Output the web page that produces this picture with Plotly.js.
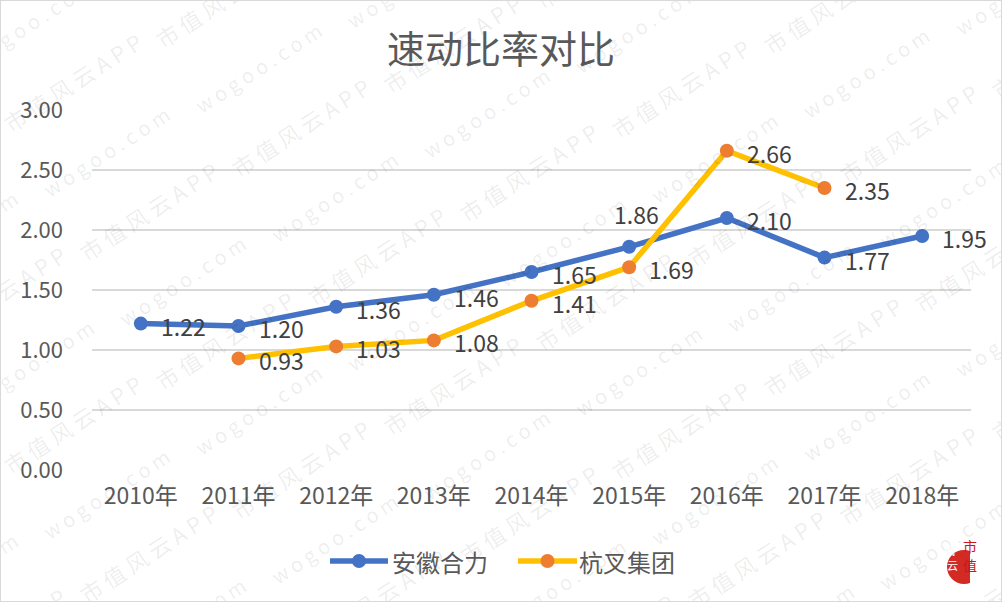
<!DOCTYPE html>
<html>
<head>
<meta charset="utf-8">
<script src="https://cdn.plot.ly/plotly-3.0.1.min.js"></script>
<style>
  html, body { margin: 0; padding: 0; background: #d9d9d9; }
  #chart { position: absolute; left: 1px; top: 1px; width: 1000px; height: 600px; background: #fff; }
</style>
</head>
<body>
<div id="chart"></div>
<script>
// ---- data ----
const years = ['2010年', '2011年', '2012年', '2013年', '2014年', '2015年', '2016年', '2017年', '2018年'];
const anhuiName = '安徽合力';
const anhui = [1.22, 1.20, 1.36, 1.46, 1.65, 1.86, 2.10, 1.77, 1.95];
const hangchaName = '杭叉集团';
const hangcha = [null, 0.93, 1.03, 1.08, 1.41, 1.69, 2.66, 2.35, null];
const chartTitle = '速动比率对比';
const wmTextA = 'w o g o o . c o m';
const wmTextB = '市 值 风 云 A P P';

// ---- layout helpers (image pixels -> paper) ----
const L = 91, R = 30, T = 109, B = 131, W = 1000, H = 600;
const pw = W - L - R, ph = H - T - B;
const px2x = px => (px - 1 - L) / pw;
const py2y = py => (H - B - (py - 1)) / ph;

const FONT = '"Noto Sans CJK SC", "Noto Sans", sans-serif';
const BLUE = '#4472C4', YEL = '#FFC000', ORG = '#ED7D31';

const traces = [
  {
    type: 'scatter', mode: 'lines+markers', name: anhuiName,
    x: years, y: anhui,
    line: { color: BLUE, width: 5.5 },
    marker: { color: BLUE, size: 14 },
    showlegend: false, hoverinfo: 'skip'
  },
  {
    type: 'scatter', mode: 'lines+markers', name: hangchaName,
    x: years, y: hangcha,
    line: { color: YEL, width: 5.5 },
    marker: { color: ORG, size: 14 },
    connectgaps: false, showlegend: false, hoverinfo: 'skip'
  }
];

const annotations = [];
const shapes = [];

// watermark lattice (decorative)
const wmBase = [258, 67], v1 = [76, 129], v2 = [152, -84], offB = [42, 60];
for (let i = -6; i <= 10; i++) {
  for (let j = -6; j <= 8; j++) {
    const cx = wmBase[0] + i * v1[0] + j * v2[0];
    const cy = wmBase[1] + i * v1[1] + j * v2[1];
    [[cx, cy, wmTextA, 20], [cx + offB[0], cy + offB[1], wmTextB, 22]].forEach(([x, y, t, s]) => {
      if (x > -120 && x < 1120 && y > -80 && y < 690) {
        annotations.push({
          xref: 'paper', yref: 'paper', x: px2x(x), y: py2y(y),
          text: t, showarrow: false, textangle: -33,
          font: { family: FONT, size: s, color: 'rgba(0,0,0,0.085)' },
          xanchor: 'center', yanchor: 'middle'
        });
      }
    });
  }
}

// data labels
function addLabels(vals, aboveIdx) {
  vals.forEach((v, i) => {
    if (v === null) return;
    const above = aboveIdx.includes(i);
    annotations.push({
      x: years[i], y: v, xref: 'x', yref: 'y',
      text: v.toFixed(2), showarrow: false,
      xanchor: above ? 'center' : 'left',
      yanchor: above ? 'bottom' : 'middle',
      xshift: above ? 7 : 18,
      yshift: above ? 14 : -2,
      font: { family: FONT, size: 23, color: '#404040' }
    });
  });
}
addLabels(anhui, [5]);
addLabels(hangcha, []);

// custom legend (line + marker + name)
function legendItem(name, lineColor, markerColor, x0px, x1px, textPx, yPx) {
  shapes.push({
    type: 'line', xref: 'paper', yref: 'paper',
    x0: px2x(x0px), x1: px2x(x1px), y0: py2y(yPx), y1: py2y(yPx),
    line: { color: lineColor, width: 5.5 }, layer: 'above'
  });
  shapes.push({
    type: 'circle', xref: 'paper', yref: 'paper', xsizemode: 'pixel', ysizemode: 'pixel',
    xanchor: px2x((x0px + x1px) / 2), yanchor: py2y(yPx), x0: -7, x1: 7, y0: -7, y1: 7,
    fillcolor: markerColor, line: { width: 0 }, layer: 'above'
  });
  annotations.push({
    xref: 'paper', yref: 'paper', x: px2x(textPx), y: py2y(yPx),
    xanchor: 'left', yanchor: 'middle', text: name, showarrow: false,
    font: { family: FONT, size: 24, color: '#595959' }
  });
}
legendItem(anhuiName, BLUE, BLUE, 330, 388, 390, 561);
legendItem(hangchaName, YEL, ORG, 518, 577, 577, 561);

// logo
shapes.push(
  { type: 'circle', xref: 'paper', yref: 'paper', xsizemode: 'pixel', ysizemode: 'pixel',
    xanchor: px2x(964), yanchor: py2y(567), x0: -17, x1: 17, y0: -17, y1: 17,
    fillcolor: '#D42A24', line: { width: 0 }, layer: 'above' },
  { type: 'rect', xref: 'paper', yref: 'paper', xsizemode: 'pixel', ysizemode: 'pixel',
    xanchor: px2x(970), yanchor: py2y(567), x0: 0, x1: 20, y0: -19, y1: 19,
    fillcolor: '#ffffff', line: { width: 0 }, layer: 'above' }
);
annotations.push(
  { xref: 'paper', yref: 'paper', x: px2x(979), y: py2y(558), text: '市', showarrow: false,
    font: { family: FONT, size: 14, color: '#C8161D' } },
  { xref: 'paper', yref: 'paper', x: px2x(979), y: py2y(577), text: '值', showarrow: false,
    font: { family: FONT, size: 14, color: '#C8161D' } },
  { xref: 'paper', yref: 'paper', x: px2x(957), y: py2y(560), text: '风', showarrow: false,
    font: { family: FONT, size: 12, color: '#ffffff' } },
  { xref: 'paper', yref: 'paper', x: px2x(960), y: py2y(575), text: '云', showarrow: false,
    font: { family: FONT, size: 11, color: '#ffffff' } }
);

const layout = {
  width: W, height: H,
  margin: { l: L, r: R, t: T, b: B },
  paper_bgcolor: '#ffffff', plot_bgcolor: '#ffffff',
  font: { family: FONT, color: '#595959' },
  title: {
    text: chartTitle, x: 0.5, xref: 'container', xanchor: 'center',
    y: 1 - 49 / H, yref: 'container', yanchor: 'middle',
    font: { family: FONT, size: 38, color: '#595959' }
  },
  xaxis: {
    type: 'category', range: [-0.5, years.length - 0.5], autorange: false,
    showgrid: false, zeroline: false, showline: false, ticks: '',
    tickfont: { family: FONT, size: 23, color: '#595959' },
    ticklabelstandoff: 10, fixedrange: true
  },
  yaxis: {
    range: [0, 3], dtick: 0.5, tick0: 0, tickformat: '.2f',
    showgrid: true, gridcolor: '#d9d9d9', gridwidth: 1.5,
    zeroline: false, showline: false, ticks: '',
    tickfont: { family: FONT, size: 22, color: '#595959' },
    ticklabelstandoff: 28, fixedrange: true
  },
  showlegend: false,
  hovermode: false,
  annotations: annotations,
  shapes: shapes
};

Plotly.newPlot('chart', traces, layout, { displayModeBar: false, staticPlot: true });
</script>
</body>
</html>
